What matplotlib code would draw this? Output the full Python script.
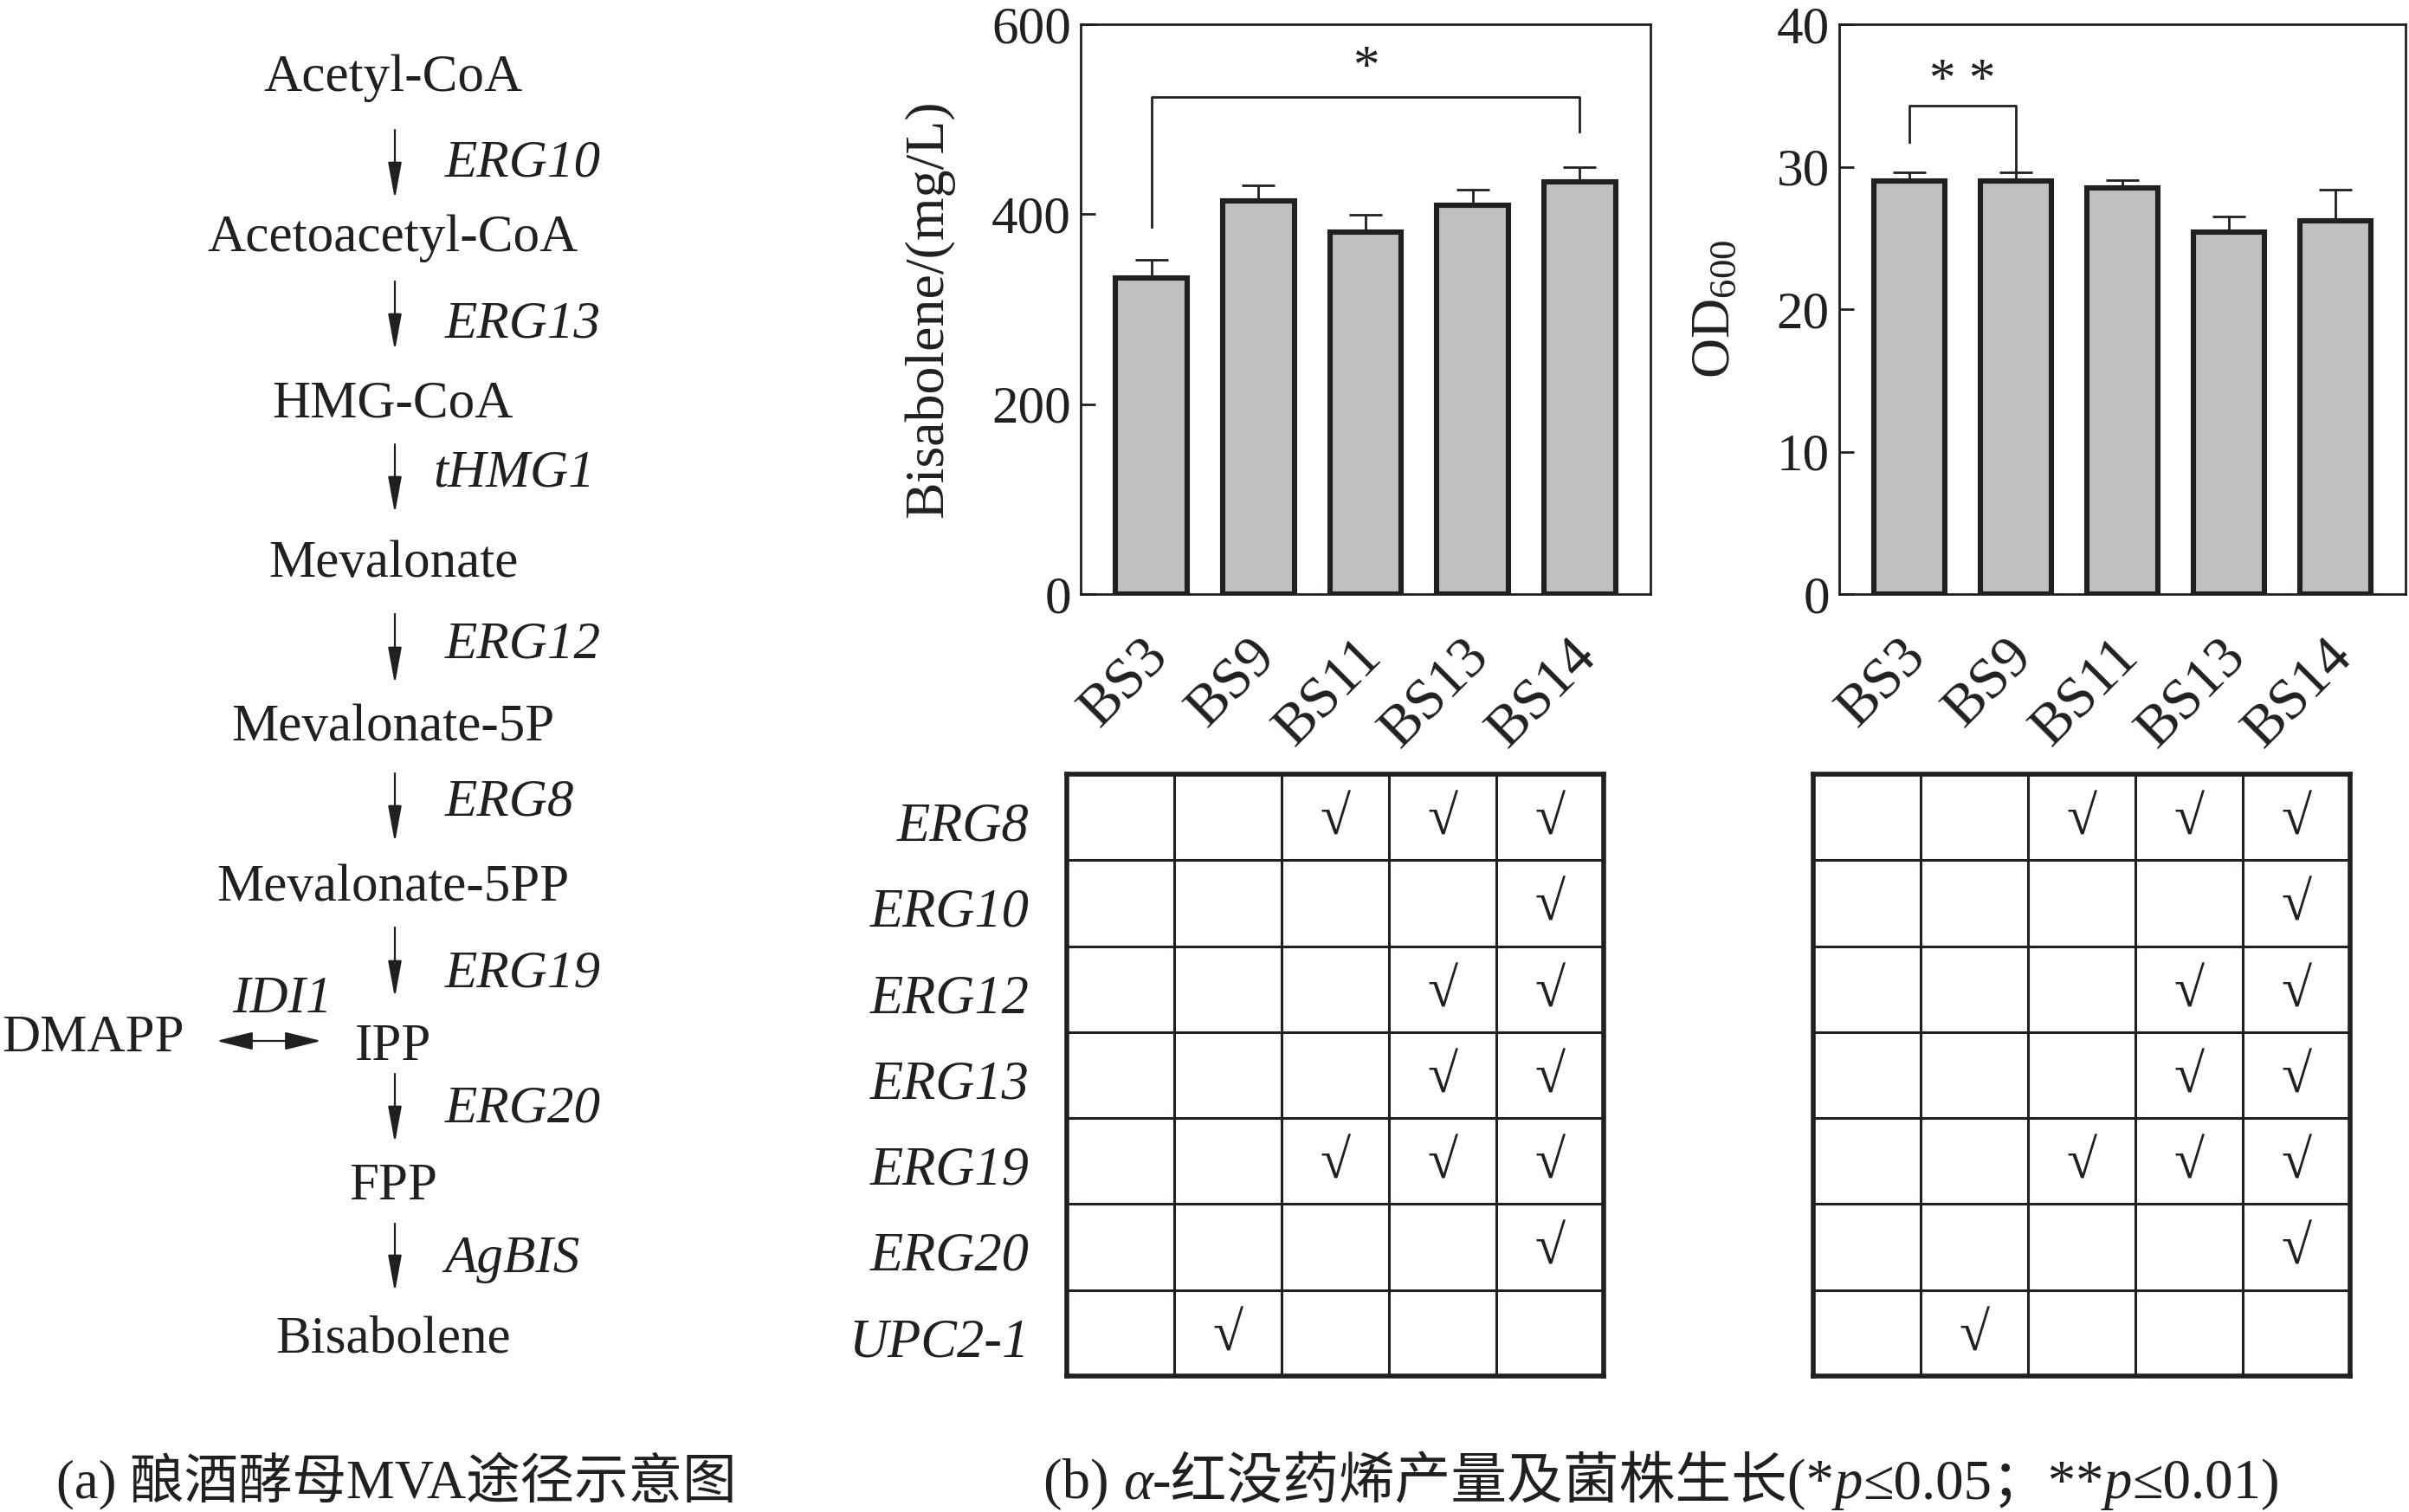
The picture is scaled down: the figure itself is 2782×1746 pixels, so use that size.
import numpy as np
import matplotlib
matplotlib.use('Agg')
import matplotlib.pyplot as plt
from matplotlib.patches import FancyArrowPatch
from matplotlib.transforms import ScaledTranslation
from matplotlib.offsetbox import TextArea, HPacker, AnnotationBbox

plt.rcParams['font.family'] = ['Liberation Serif', 'Noto Sans CJK SC']
plt.rcParams['font.size'] = 22
plt.rcParams['mathtext.fontset'] = 'custom'
plt.rcParams['mathtext.rm'] = 'Liberation Serif'
plt.rcParams['mathtext.it'] = 'Liberation Serif:italic'

INK = '#231f20'
plt.rcParams['text.color'] = INK
plt.rcParams['axes.edgecolor'] = INK
plt.rcParams['xtick.color'] = INK
plt.rcParams['ytick.color'] = INK

# 数据
strains = ['BS3', 'BS9', 'BS11', 'BS13', 'BS14']
bisabolene = [333, 414, 381, 409, 434]
bisabolene_err = [19, 16, 18, 17, 16]
od600 = [29.0, 29.0, 28.5, 25.4, 26.2]
od600_err = [0.6, 0.6, 0.55, 1.1, 2.2]

genes_tab = ['ERG8', 'ERG10', 'ERG12', 'ERG13', 'ERG19', 'ERG20', 'UPC2-1']
# 1 = 过表达
checks = [[0, 0, 1, 1, 1],
          [0, 0, 0, 0, 1],
          [0, 0, 0, 1, 1],
          [0, 0, 0, 1, 1],
          [0, 0, 1, 1, 1],
          [0, 0, 0, 0, 1],
          [0, 1, 0, 0, 0]]

# 途径示意图
metabolites = ['Acetyl-CoA', 'Acetoacetyl-CoA', 'HMG-CoA', 'Mevalonate',
               'Mevalonate-5P', 'Mevalonate-5PP', 'IPP', 'FPP', 'Bisabolene']
enzymes = ['ERG10', 'ERG13', 'tHMG1', 'ERG12', 'ERG8', 'ERG19', 'ERG20', 'AgBIS']

W, H = 2782, 1746
fig = plt.figure(figsize=(W / 200, H / 200), dpi=200)


def px_axes(x0, y0, x1, y1):
    return fig.add_axes([x0 / W, 1 - y1 / H, (x1 - x0) / W, (y1 - y0) / H])


# 全图覆盖层 (像素坐标)
ax0 = fig.add_axes([0, 0, 1, 1])
ax0.set_xlim(0, W)
ax0.set_ylim(H, 0)
ax0.axis('off')

metab_y = [105, 290, 481, 666, 855, 1040, 1224, 1385, 1561]
enz_x = [514, 514, 500, 514, 514, 514, 514, 513]
enz_y = [203, 389, 561, 759, 941, 1140, 1295, 1469]
arrow_y = [(150, 230), (325, 405), (513, 593), (709, 790),
           (893, 973), (1071, 1152), (1240, 1320), (1413, 1492)]
cx = 454

for name, y in zip(metabolites, metab_y):
    ax0.text(cx, y, name, ha='center', va='baseline')
for name, x, y in zip(enzymes, enz_x, enz_y):
    ax0.text(x, y, name, ha='left', va='baseline', style='italic')
for y0, y1 in arrow_y:
    ax0.add_patch(FancyArrowPatch((456, y0), (456, y1), arrowstyle='-|>,head_length=13,head_width=2.4',
                                  mutation_scale=1, lw=0.8, color=INK, shrinkA=0, shrinkB=0))

ax0.text(2, 1214, 'DMAPP', ha='left', va='baseline')
ax0.text(326, 1169, 'IDI1', ha='center', va='baseline', style='italic')
ax0.add_patch(FancyArrowPatch((250, 1202), (371, 1202), arrowstyle='<|-|>,head_length=13,head_width=3.2',
                              mutation_scale=1, lw=0.8, color=INK, shrinkA=0, shrinkB=0))

ax0.text(458, 1710, '(a) 酿酒酵母MVA途径示意图', ha='center', va='center', fontsize=22.5)

# 图注 (b)
pieces = [('(b) ', 'normal'), ('α', 'italic'), ('-红没药烯产量及菌株生长(*', 'normal'),
          ('p', 'italic'), ('≤0.05；**', 'normal'), ('p', 'italic'), ('≤0.01)', 'normal')]
boxes = [TextArea(t, textprops=dict(fontstyle=s, fontsize=23.3, color=INK)) for t, s in pieces]
pack = HPacker(children=boxes, align='baseline', pad=0, sep=0)
ab = AnnotationBbox(pack, (1919 / W, 1 - 1710 / H), xycoords='figure fraction',
                    box_alignment=(0.5, 0.5), frameon=False)
ax0.add_artist(ab)


# 柱状图
def bar_panel(ax, vals, errs, ymax, step, ylabel, lab_x, brackets):
    x = np.arange(len(strains))
    ax.bar(x, vals, width=0.67, color='#c0c0c0', edgecolor=INK, linewidth=2.2,
           yerr=[np.zeros(len(vals)), errs],
           error_kw=dict(ecolor=INK, elinewidth=1.0, capsize=7, capthick=1.0), zorder=2)
    ax.set_xlim(-0.66, len(strains) - 1 + 0.66)
    ax.set_ylim(0, ymax)
    ax.set_yticks(np.arange(0, ymax + 1, step))
    ax.tick_params(axis='y', direction='in', length=6, width=1.0, pad=4, labelsize=22)
    ax.set_xticks(x)
    ax.set_xticklabels(strains, rotation=45, ha='right', va='top', rotation_mode='anchor')
    ax.tick_params(axis='x', length=0, pad=15, labelsize=24)
    off = ScaledTranslation(-12 / 200, 0, fig.dpi_scale_trans)
    for lab in ax.get_xticklabels():
        lab.set_transform(lab.get_transform() + off)
    for sp in ax.spines.values():
        sp.set_linewidth(1.0)
    ax.text(lab_x, 0.5, ylabel, rotation=90, ha='center', va='center',
            transform=ax.transAxes, fontsize=23)
    for i, j, top, bot_i, bot_j, star, star_y in brackets:
        ax.plot([i, i, j, j], [bot_i, top, top, bot_j], color=INK, lw=1.0)
        ax.text((i + j) / 2, star_y, star, ha='center', va='baseline', fontsize=22)


ax1 = px_axes(1248, 28, 1906, 686)
bar_panel(ax1, bisabolene, bisabolene_err, 600, 200, 'Bisabolene/(mg/L)', -0.266,
          [(0, 4, 523, 387, 487, '*', 540)])
ax2 = px_axes(2124, 28, 2778, 686)
bar_panel(ax2, od600, od600_err, 40, 10, 'OD$_{600}$', -0.217,
          [(0, 1, 34.27, 31.74, 29.6, '* *', 35.1)])


# 基因过表达表格
def gene_table(ax, labels):
    ax.set_xlim(0, 5)
    ax.set_ylim(7, 0)
    ax.set_xticks([])
    ax.set_yticks([])
    for sp in ax.spines.values():
        sp.set_linewidth(2.0)
    for c in range(1, 5):
        ax.axvline(c, color=INK, lw=1.1)
    for r in range(1, 7):
        ax.axhline(r, color=INK, lw=1.1)
    for r, row in enumerate(checks):
        for c, v in enumerate(row):
            if v:
                ax.text(c + 0.5, r + 0.55, '√', ha='center', va='center', fontsize=23)
    if labels:
        for r, g in enumerate(genes_tab):
            ax.text(-0.35, r + 0.62, g, ha='right', va='center', style='italic', fontsize=22.5)


t1 = px_axes(1232, 894, 1852, 1589)
gene_table(t1, True)
t2 = px_axes(2094, 894, 2714, 1589)
gene_table(t2, False)

fig.savefig('out.png', dpi=200)
